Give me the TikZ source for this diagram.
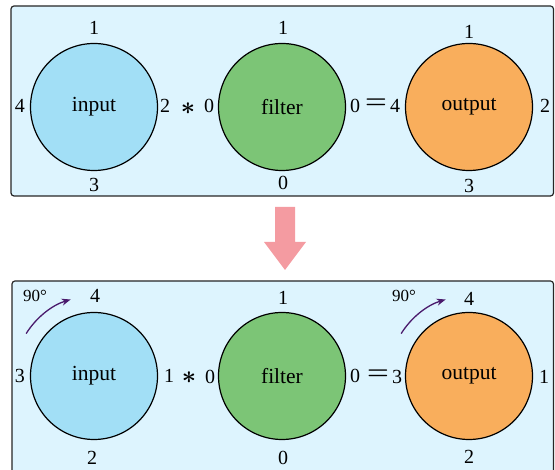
\documentclass[tikz,border=0pt]{standalone}
\usepackage{fontspec}
\setmainfont{Liberation Serif}
\usetikzlibrary{calc,arrows.meta}
\definecolor{boxfill}{HTML}{DDF4FE}
\definecolor{infill}{HTML}{A2DFF6}
\definecolor{fifill}{HTML}{7CC576}
\definecolor{oufill}{HTML}{F9AE5C}
\definecolor{arrfill}{HTML}{F49BA1}
\definecolor{arccol}{HTML}{4A1A6C}
\begin{document}
\begin{tikzpicture}[x=1pt,y=1pt,
  panel/.style={draw=black!85,line width=1.2pt,fill=boxfill,rounded corners=3pt},
  ring/.style={circle,draw=black,line width=1.2pt,minimum size=127pt,inner sep=0pt,font=\fontsize{21.5}{24}\selectfont},
  lab/.style={inner sep=0pt,font=\fontsize{20}{22}\selectfont},
  op/.style={inner sep=0pt,font=\fontsize{30}{32}\selectfont\boldmath},
  deg/.style={inner sep=0pt,font=\fontsize{17}{19}\selectfont},
  rot/.style={draw=arccol,line width=1.3pt,-{Stealth[length=9pt,width=7pt]}}]
\useasboundingbox (0,0) rectangle (555,470);
\clip (0,0) rectangle (555,470);
% panels
\path[panel] (11,274) rectangle (553.5,464);
\path[panel] (12,189) rectangle (553.5,-20);
% arrow
\fill[arrfill] (275,263) -- (295,263) -- (295,228) -- (306,228) -- (285,200) -- (264,228) -- (275,228) -- cycle;
% top row
\node[ring,fill=infill] (in1) at (94,363) {input};
\node[ring,fill=fifill] (fi1) at (282,363) {filter};
\node[ring,fill=oufill] (ou1) at (469,363) {output};
\node[lab] (t1) at (94,442) {1};
\node[lab] (t2) at (20,364) {4};
\node[lab] (t3) at (165,364) {2};
\node[lab] (t4) at (94,285) {3};
\node[op] (tast) at (188,361) {$\ast$};
\node[lab] (t5) at (209,364) {0};
\node[lab] (t6) at (283,442) {1};
\node[lab] (t7) at (283,287) {0};
\node[lab] (t8) at (355,364) {0};
\node[op] (teq) at (376,366) {$=$};
\node[lab] (t9) at (395,364) {4};
\node[lab] (t10) at (469,438) {1};
\node[lab] (t11) at (545,364) {2};
\node[lab] (t12) at (469,284) {3};
% bottom row
\node[ring,fill=infill] (in2) at (94,94) {input};
\node[ring,fill=fifill] (fi2) at (282,94) {filter};
\node[ring,fill=oufill] (ou2) at (469,94) {output};
\node[deg] (d1) at (35,174) {90°};
\node[lab] (b1) at (95,174) {4};
\node[lab] (b2) at (20,94) {3};
\node[lab] (b3) at (169,94) {1};
\node[op] (bast) at (189,92) {$\ast$};
\node[lab] (b4) at (210,93) {0};
\node[lab] (b5) at (92,12) {2};
\node[lab] (b6) at (283,172) {1};
\node[lab] (b7) at (283,12) {0};
\node[lab] (b8) at (355,94) {0};
\node[op] (beq) at (378,95) {$=$};
\node[lab] (b9) at (397,93) {3};
\node[lab] (b10) at (544,93) {1};
\node[lab] (b11) at (469,171) {4};
\node[lab] (b12) at (469,13) {2};
\node[deg] (d2) at (404,174) {90°};
% rotation arcs
\draw[rot] ($(in2.center)+(148:80)$) arc[start angle=148,end angle=107,radius=80];
\draw[rot] ($(ou2.center)+(148:80)$) arc[start angle=148,end angle=107,radius=80];
\end{tikzpicture}
\end{document}
